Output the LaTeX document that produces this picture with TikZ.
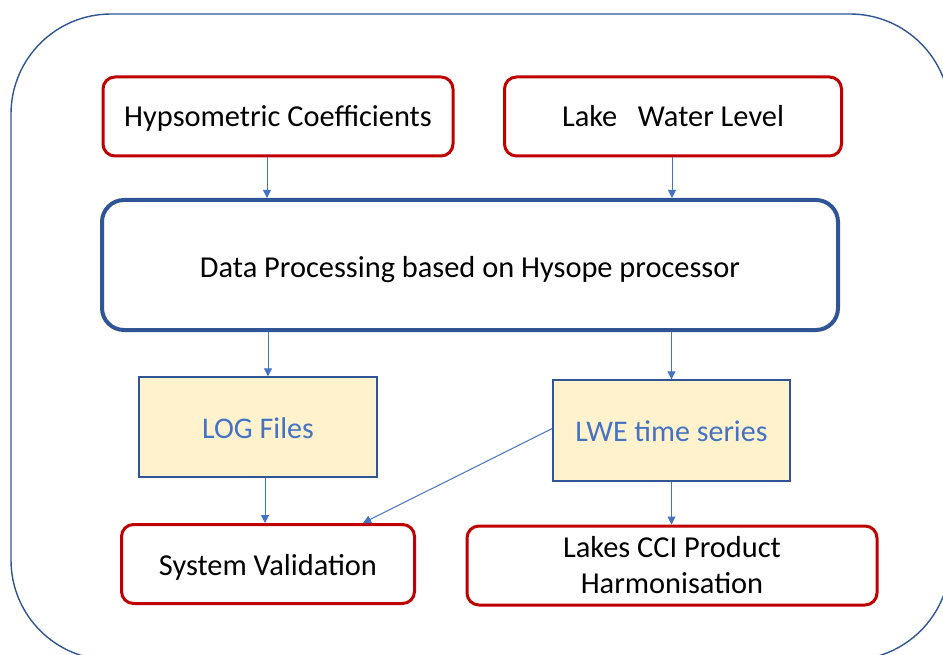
\documentclass[tikz,border=0pt]{standalone}
\usepackage{fontspec}
\setmainfont{Carlito}
\usetikzlibrary{arrows.meta}
\definecolor{boxred}{HTML}{C00000}
\definecolor{darkblue}{HTML}{2F5597}
\definecolor{midblue}{HTML}{4472C4}
\definecolor{paleyellow}{HTML}{FFF2CC}
\tikzset{
  redbox/.style={draw=boxred, line width=3pt, rounded corners=12pt, fill=white,
    text=black, align=center, font=\fontsize{30.4}{36}\selectfont, inner sep=0pt},
  procbox/.style={draw=darkblue, line width=4pt, rounded corners=22pt, fill=white,
    text=black, font=\fontsize{30.4}{36}\selectfont, inner sep=0pt},
  databox/.style={draw=darkblue, line width=1.3pt, fill=paleyellow,
    text=midblue, font=\fontsize{30}{36}\selectfont, inner sep=0pt},
  oneline/.style={text height=#1, text depth=0pt},
  outerbox/.style={draw=darkblue, line width=1.4pt, rounded corners=100pt},
  flow/.style={draw=midblue, line width=1pt, -{Triangle[length=8pt,width=8pt]}}
}
\begin{document}
\begin{tikzpicture}[x=1pt,y=-1pt]
\useasboundingbox (0,0) rectangle (943,655);
\begin{scope}
  \clip (0,0) rectangle (943,655);
  \draw[outerbox] (11,14) rectangle (950,660);
\end{scope}
\node[redbox, oneline=21pt, minimum width=350pt, minimum height=79pt] (hyp) at (278,116.5) {Hypsometric Coefficients};
\node[redbox, oneline=21pt, minimum width=337pt, minimum height=79pt] (lake) at (673,116.5) {Lake\ \ \ Water Level};
\node[procbox, oneline=26pt, minimum width=736pt, minimum height=130pt] (proc) at (470,265) {Data Processing based on Hysope processor};
\node[databox, oneline=22pt, minimum width=238pt, minimum height=100pt] (log) at (258,427) {LOG Files};
\node[databox, oneline=21pt, minimum width=237pt, minimum height=101pt] (lwe) at (671.5,430.5) {LWE time series};
\node[redbox, oneline=22pt, minimum width=293pt, minimum height=79pt] (sys) at (268,564) {System Validation};
\node[redbox, minimum width=410pt, minimum height=79pt] (cci) at (672,565.5) {Lakes CCI Product\\Harmonisation};

\draw[flow] ([xshift=-11pt]hyp.south) -- ([xshift=-11pt]hyp.south |- proc.north);
\draw[flow] ([xshift=-1pt]lake.south) -- ([xshift=-1pt]lake.south |- proc.north);
\draw[flow] ([xshift=10pt]log.north |- proc.south) -- ([xshift=10pt]log.north);
\draw[flow] (lwe.north |- proc.south) -- (lwe.north);
\draw[flow] ([xshift=7pt]log.south) -- ([xshift=7pt]log.south |- sys.north);
\draw[flow] (lwe.south) -- (lwe.south |- cci.north);
\draw[flow] ([yshift=2pt]lwe.west) -- ([xshift=95pt]sys.north);
\end{tikzpicture}
\end{document}
